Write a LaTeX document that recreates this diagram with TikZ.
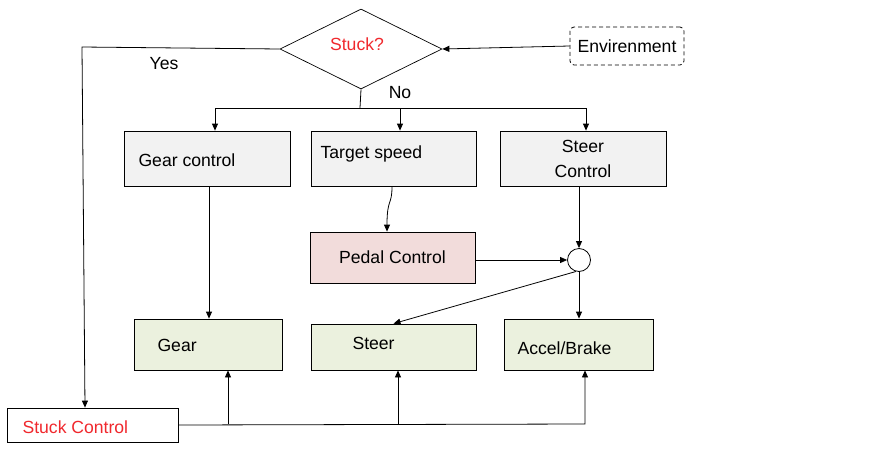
\documentclass[tikz,border=0pt]{standalone}
\usepackage{fontspec}
\setmainfont{Liberation Sans}
\usetikzlibrary{shapes.geometric,arrows.meta,calc}

\definecolor{ctrlgray}{HTML}{F2F2F2}
\definecolor{pedalpink}{HTML}{F2DCDB}
\definecolor{outgreen}{HTML}{EBF1DE}
\definecolor{stuckred}{HTML}{F0282D}

\begin{document}
\begin{tikzpicture}[x=1pt,y=-1pt,
    font=\fontsize{17.6}{25}\selectfont,
    ctrlbox/.style={draw, line width=0.8pt, fill=ctrlgray, inner sep=0pt},
    outbox/.style={draw, line width=0.8pt, fill=outgreen, inner sep=0pt},
    flow/.style={line width=0.8pt, -{Triangle[length=7pt,width=6pt]}},
    wire/.style={line width=0.8pt}]

    \useasboundingbox (0,0) rectangle (875,453);

    % decision and environment
    \node[diamond, draw, line width=0.7pt, aspect=2, inner sep=0pt,
          minimum width=162pt, minimum height=80pt] (dec) at (361,49) {};
    \node[text=stuckred] (dectxt) at (357,44) {Stuck?};
    \node[draw, dash pattern=on 4pt off 3pt, rounded corners=4pt, line width=0.8pt,
          minimum width=114pt, minimum height=38pt, inner sep=0pt] (env) at (627,46) {Envirenment};

    \draw[flow] (env.west) -- (dec.east);

    % controllers
    \node[ctrlbox, minimum width=166pt, minimum height=55pt] (gctl) at (207,158.5) {};
    \node[anchor=west] (gctltxt) at (135,160) {Gear control};
    \node[ctrlbox, minimum width=165pt, minimum height=55pt] (tspd) at (394,158.5) {};
    \node[anchor=west] (tspdtxt) at (317,154) {Target speed};
    \node[ctrlbox, minimum width=166pt, minimum height=55pt, align=center] (sctl) at (583,158.5)
        {Steer\\Control};

    \node[draw, line width=0.8pt, fill=pedalpink, inner sep=0pt,
          minimum width=165pt, minimum height=51pt] (pedal) at (392.5,257.5) {Pedal Control};
    \node[circle, draw, line width=0.8pt, minimum size=23pt, inner sep=0pt] (sum) at (579,260) {};

    % outputs
    \node[outbox, minimum width=148pt, minimum height=51pt] (gear) at (208,344.5) {};
    \node[anchor=west] (geartxt) at (154,345) {Gear};
    \node[outbox, minimum width=165pt, minimum height=46pt] (steer) at (393.5,347) {};
    \node[anchor=west] (steertxt) at (349,343) {Steer};
    \node[outbox, minimum width=149pt, minimum height=51pt] (accel) at (579,344.5) {};
    \node[anchor=west] (acceltxt) at (514,348) {Accel/Brake};

    \node[draw, line width=0.8pt, minimum width=171pt, minimum height=34pt, inner sep=0pt] (stuck) at (92.5,425) {};
    \node[anchor=west, text=stuckred] (stucktxt) at (19,427) {Stuck Control};

    % Yes branch
    \coordinate (yesturn) at (82,47);
    \draw[flow] (dec.west) -- (yesturn) -- ([xshift=-7.5pt]stuck.north);
    \node (yes) at (164,64) {Yes};

    % No branch
    \coordinate (br) at (360,108);
    \draw[wire] (dec.south) -- (br);
    \node (no) at (400,93) {No};
    \draw[flow] (br) -| ([xshift=8pt]gctl.north);
    \draw[flow] (br) -| ([xshift=6pt]tspd.north);
    \draw[flow] (br) -| ([xshift=3pt]sctl.north);

    % controller links
    \draw[flow] ([xshift=2pt]gctl.south) -- ([xshift=1pt]gear.north);
    \draw[flow] ([xshift=-2pt]tspd.south) .. controls (392,206) and (387,198) .. ([xshift=-5.5pt]pedal.north);
    \draw[flow] (sctl.south -| sum) -- (sum.north);
    \draw[flow] (pedal.east |- sum) -- (sum.west);
    \draw[flow] (sum.255) -- (steer.north);
    \draw[flow] (sum.south) -- (accel.north);

    % stuck control bus
    \coordinate (busend) at (585,424);
    \draw[flow] (stuck.east) -- ([xshift=6pt]accel.south |- busend) -- ([xshift=6pt]accel.south);
    \draw[flow] ([xshift=20pt]gear.south |- busend) -- ([xshift=20pt]gear.south);
    \draw[flow] ([xshift=4.5pt]steer.south |- busend) -- ([xshift=4.5pt]steer.south);
\end{tikzpicture}
\end{document}
